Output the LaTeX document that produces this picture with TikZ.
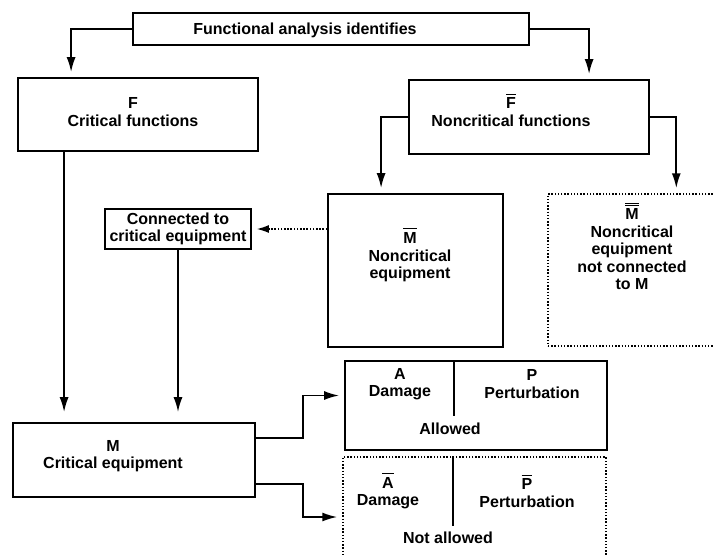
\documentclass[tikz,border=0pt]{standalone}
\usepackage{fontspec}
\setmainfont{Liberation Sans}
\usetikzlibrary{calc,positioning,arrows.meta}
\newcommand{\ovl}[1]{$\overline{\mbox{\rule{0pt}{13.5pt}#1}}$}
\newcommand{\ovll}[1]{$\overline{\overline{\mbox{\rule{0pt}{13.5pt}#1}}}$}

\begin{document}
\begin{tikzpicture}[x=1pt,y=-1pt,
  box/.style={draw,line width=1.8pt,inner sep=0pt},
  dotbox/.style={draw,line width=1.4pt,dash pattern=on 1.4pt off 1.8pt,inner sep=0pt},
  txt/.style={align=center,inner sep=0pt,font=\fontsize{16}{17.5}\selectfont\bfseries},
  arr/.style={line width=1.8pt,-{Latex[length=15pt,width=9pt]},shorten >=5pt},
  dotarr/.style={line width=1.3pt,dash pattern=on 1.6pt off 1.6pt,-{Latex[length=12pt,width=8pt]},shorten >=5pt}]
\useasboundingbox (0,0) rectangle (714,554);
\clip (0,0) rectangle (714,554);
% boxes
\node[box,minimum width=396pt,minimum height=32pt] (top) at (331,29) {};
\node[txt] (toplbl) at (305,30) {Functional analysis identifies};
\node[box,minimum width=240pt,minimum height=73pt] (fbox) at (138,114.5) {};
\node[txt] (flbl) at (133,112) {F\\Critical functions};
\node[box,minimum width=240pt,minimum height=74pt] (fbar) at (529,117) {};
\node[txt] (fbarlbl) at (511,110) {\ovl{F}\\Noncritical functions};
\node[box,minimum width=146pt,minimum height=40pt,txt] (conn) at (178,229) {Connected to\\critical equipment};
\node[box,minimum width=175pt,minimum height=153pt] (mbar) at (415.5,270.5) {};
\node[txt] (mbarlbl) at (410,255) {\ovl{M}\\Noncritical\\equipment};
\node[dotbox,minimum width=232pt,minimum height=152pt] (mdbl) at (664,270) {};
\node[txt] (mdbllbl) at (632,246) {\ovll{M}\\Noncritical\\equipment\\not connected\\to M};
\node[box,minimum width=242pt,minimum height=74pt] (mbox) at (134,460) {};
\node[txt] (mlbl) at (113,456) {M\\Critical equipment};
\node[box,minimum width=262pt,minimum height=89pt] (apbox) at (476,405.5) {};
\node[txt] (albl) at (400,384) {A\\Damage};
\node[txt] (plbl) at (532,384) {P\\Perturbation};
\node[txt] (allowed) at (450,429) {Allowed};
\node[dotbox,minimum width=263pt,minimum height=142pt] (abox) at (474.5,528) {};
\node[txt] (abarlbl) at (388,491) {\ovl{A}\\Damage};
\node[txt] (pbarlbl) at (527,491) {\ovl{P}\\Perturbation};
\node[txt] (notallowed) at (448,538) {Not allowed};
\draw[line width=1.8pt] ([xshift=110pt]apbox.north west) -- ++(0,56);
\draw[line width=1.8pt] ([xshift=111pt]abox.north west) -- ++(0,70);
% connectors
\draw[arr] (top.west) -| ([xshift=54pt]fbox.north west);
\draw[arr] (top.east) -| ([xshift=181pt]fbar.north west);
\draw[arr] (fbar.west) -| ([xshift=54pt]mbar.north west);
\draw[arr] (fbar.east) -| ([xshift=129pt]mdbl.north west);
\draw[dotarr] (mbar.west |- conn.east) -- (conn.east);
\draw[arr,shorten >=10pt] ([xshift=47pt]fbox.south west) -- ([xshift=47pt]fbox.south west |- mbox.north);
\draw[arr,shorten >=10pt] (conn.south) -- (conn.south |- mbox.north);
\draw[arr] ([yshift=22pt]mbox.east) -- ++(47,0) |- ([yshift=10pt]apbox.west);
\draw[arr] ([yshift=-24pt]mbox.east) -- ++(47,0) |- ([yshift=11pt]abox.west);
\end{tikzpicture}
\end{document}
